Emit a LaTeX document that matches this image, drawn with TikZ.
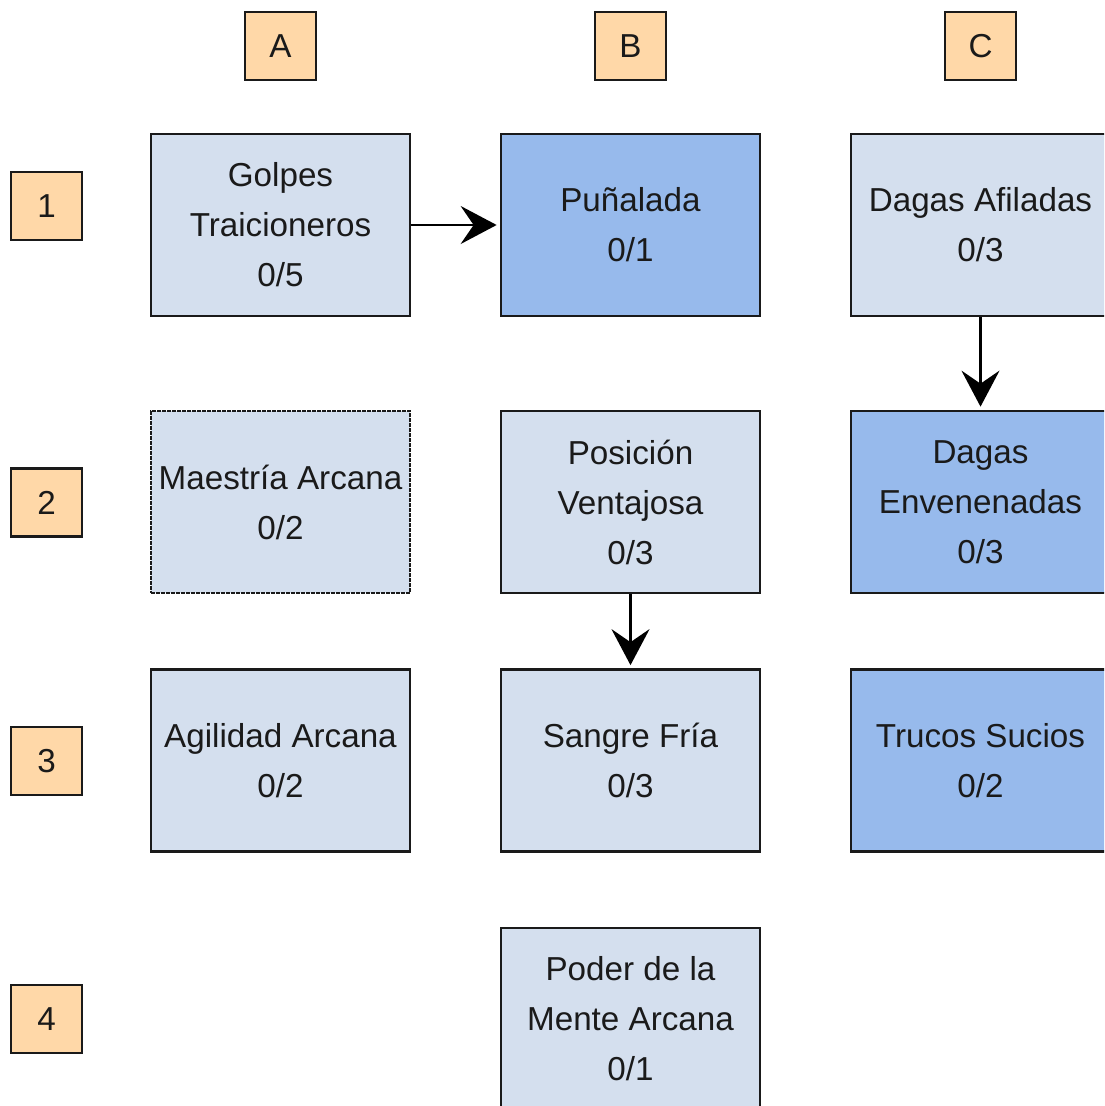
\documentclass[tikz,border=0pt]{standalone}
\usepackage{fontspec}
\setmainfont{Liberation Sans}
\usetikzlibrary{arrows.meta}
\definecolor{skillfill}{HTML}{D4DFEE}
\definecolor{pickfill}{HTML}{97BAEC}
\definecolor{tagfill}{HTML}{FFD8A8}
\definecolor{inkgray}{HTML}{1A1A1A}
\begin{document}
\begin{tikzpicture}[x=1pt, y=-1pt,
    every node/.style={font=\fontsize{33.2}{50}\selectfont, text=inkgray, align=center},
    tag/.style={draw=inkgray, fill=tagfill, line width=2.7pt, minimum width=71pt, minimum height=68pt, inner sep=0pt},
    skill/.style={draw=inkgray, fill=skillfill, line width=2.7pt, minimum width=259pt, minimum height=182pt, inner sep=0pt},
    picked/.style={skill, fill=pickfill},
    link/.style={draw=black, line width=2.7pt, -{Stealth[length=36pt, width=38pt, inset=13pt]}, shorten >=3pt}]
            \clip (0,0) rectangle (1104,1106);

            \node[tag] (HA) at (280.5, 46) {A};
            \node[tag] (HB) at (630.5, 46) {B};
            \node[tag] (HC) at (980.5, 46) {C};

            \node[tag] (R1) at (46.5, 206) {1};
            \node[tag] (R2) at (46.5, 502.5) {2};
            \node[tag] (R3) at (46.5, 761) {3};
            \node[tag] (R4) at (46.5, 1019) {4};

            \node[skill] (A1) at (280.5, 225) {Golpes\\Traicioneros\\0/5};
            \node[picked] (B1) at (630.5, 225) {Puñalada\\0/1};
            \node[skill] (C1) at (980.5, 225) {Dagas Afiladas\\0/3};

            \node[skill, dash pattern=on 4pt off 1pt] (A2) at (280.5, 502) {Maestría Arcana\\0/2};
            \node[skill] (B2) at (630.5, 502) {Posición\\Ventajosa\\0/3};
            \node[picked] (C2) at (980.5, 502) {Dagas\\Envenenadas\\0/3};

            \node[skill] (A3) at (280.5, 760.5) {Agilidad Arcana\\0/2};
            \node[skill] (B3) at (630.5, 760.5) {Sangre Fría\\0/3};
            \node[picked] (C3) at (980.5, 760.5) {Trucos Sucios\\0/2};

            \node[skill] (B4) at (630.5, 1019) {Poder de la\\Mente Arcana\\0/1};

            \draw[link] (A1) -- (B1);
            \draw[link] (C1) -- (C2);
            \draw[link] (B2) -- (B3);
        \end{tikzpicture}
\end{document}
